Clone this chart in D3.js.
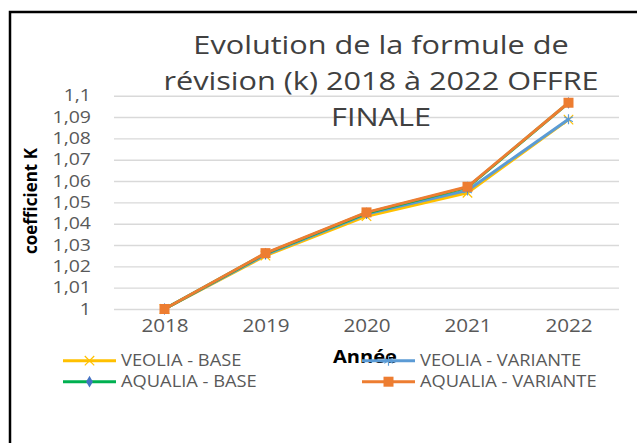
<!DOCTYPE html>
<html>
<head>
<meta charset="utf-8">
<script src="https://cdn.jsdelivr.net/npm/d3@7.9.0/dist/d3.min.js"></script>
<style>
  body { margin: 0; background: #fff; }
  svg { display: block; font-family: "Open Sans", sans-serif; }
</style>
</head>
<body>
<div id="viz"></div>
<script>
// Data
const years = ["2018", "2019", "2020", "2021", "2022"];
const veoliaBase = [1, 1.025, 1.0435, 1.0545, 1.0888];
const veoliaVariante = [1, 1.0255, 1.0445, 1.0556, 1.089];
const aqualiaBase = [1, 1.026, 1.045, 1.057, 1.0966];
const aqualiaVariante = [1, 1.0262, 1.0453, 1.0573, 1.0967];
const seriesNames = ["VEOLIA - BASE", "VEOLIA - VARIANTE", "AQUALIA - BASE", "AQUALIA - VARIANTE"];
const yTicks = [1, 1.01, 1.02, 1.03, 1.04, 1.05, 1.06, 1.07, 1.08, 1.09, 1.1];
const titleLines = ["Evolution de la formule de", "révision (k) 2018 à 2022 OFFRE", "FINALE"];
const xTitle = "Année";
const yTitle = "coefficient K";

const series = [
  { name: seriesNames[0], values: veoliaBase, color: "#FFC000", marker: "x" },
  { name: seriesNames[1], values: veoliaVariante, color: "#5B9BD5", marker: "asterisk" },
  { name: seriesNames[2], values: aqualiaBase, color: "#00B050", marker: "diamond" },
  { name: seriesNames[3], values: aqualiaVariante, color: "#ED7D31", marker: "square" }
];

const W = 637, H = 443;
const K = 1.18; // the picture is a bit stretched sideways

const svg = d3.select("#viz").append("svg")
  .attr("width", W)
  .attr("height", H);

svg.append("rect").attr("width", W).attr("height", H).attr("fill", "#fff");

// frame (right and bottom edges are cut off in the picture)
svg.append("path")
  .attr("d", `M10,${H} V12 H${W}`)
  .attr("fill", "none")
  .attr("stroke", "#000")
  .attr("stroke-width", 2.5);

const x = d3.scalePoint().domain(years).range([114, 619]).padding(0.5);
const y = d3.scaleLinear().domain([1, 1.1]).range([309, 95.7]);

// gridlines
const grid = svg.append("g")
  .attr("transform", "translate(114,0)")
  .call(d3.axisLeft(y).tickValues(yTicks).tickSize(-(619 - 114)).tickFormat(""));
grid.select(".domain").remove();
grid.selectAll("line").attr("stroke", "#d9d9d9").attr("stroke-width", 1.4);

// y tick labels
const fmt = v => d3.format("~r")(+v.toFixed(2)).replace(".", ",");
const yAxis = svg.append("g")
  .attr("transform", "translate(91,0)")
  .call(d3.axisLeft(y).tickValues(yTicks).tickSize(0).tickPadding(0).tickFormat(fmt));
yAxis.select(".domain").remove();
yAxis.selectAll("text")
  .attr("font-family", "Open Sans")
  .attr("font-size", 16.5)
  .attr("fill", "#595959")
  .attr("transform", `scale(${K},1)`);

// x tick labels
const xAxis = svg.append("g")
  .attr("transform", "translate(0,309)")
  .call(d3.axisBottom(x).tickSize(0).tickPadding(11));
xAxis.select(".domain").remove();
xAxis.selectAll("text")
  .attr("font-family", "Open Sans")
  .attr("font-size", 17.5)
  .attr("fill", "#595959")
  .attr("transform", `scale(${K},1)`);

// markers
function drawMarker(g, type, color, cx, cy) {
  if (type === "square") {
    g.append("path").attr("transform", `translate(${cx},${cy})`)
      .attr("d", d3.symbol(d3.symbolSquare, 100)())
      .attr("fill", color);
  } else if (type === "diamond") {
    g.append("path").attr("transform", `translate(${cx},${cy})`)
      .attr("d", d3.symbol(d3.symbolDiamond, 40)())
      .attr("fill", "#4472C4");
  } else if (type === "x") {
    g.append("path").attr("transform", `translate(${cx},${cy})`)
      .attr("d", d3.symbol(d3.symbolX, 60)())
      .attr("fill", "none").attr("stroke", color).attr("stroke-width", 1.2);
  } else {
    g.append("path").attr("transform", `translate(${cx},${cy})`)
      .attr("d", d3.symbol(d3.symbolAsterisk, 70)())
      .attr("fill", "none").attr("stroke", color).attr("stroke-width", 1.2);
  }
}

const line = d3.line()
  .x((d, i) => x(years[i]))
  .y(d => y(d));

const plot = svg.append("g");
series.forEach(s => {
  plot.append("path")
    .datum(s.values)
    .attr("fill", "none")
    .attr("stroke", s.color)
    .attr("stroke-width", 3)
    .attr("stroke-linejoin", "round")
    .attr("d", line);
  s.values.forEach((v, i) => drawMarker(plot, s.marker, s.color, x(years[i]), y(v)));
});

// title (drawn over the gridlines, as in the picture)
svg.append("g").selectAll("text")
  .data(titleLines)
  .join("text")
  .attr("transform", (d, i) => `translate(381,${54 + i * 36}) scale(${K},1)`)
  .attr("text-anchor", "middle")
  .attr("font-size", 26)
  .attr("fill", "#404040")
  .text(d => d);

// axis titles
svg.append("text")
  .attr("transform", "translate(37,201) rotate(-90)")
  .attr("text-anchor", "middle")
  .attr("font-size", 17)
  .attr("font-weight", "bold")
  .attr("fill", "#000")
  .text(yTitle);

svg.append("text")
  .attr("transform", `translate(333,363) scale(${K},1)`)
  .attr("font-size", 17)
  .attr("font-weight", "bold")
  .attr("fill", "#000")
  .text(xTitle);

// legend, two columns
const legendCols = [63, 362];
const legendRows = [360.7, 381.7];
const legend = svg.append("g");
series.forEach((s, i) => {
  const lx = legendCols[i % 2], ly = legendRows[Math.floor(i / 2)];
  const item = legend.append("g");
  item.append("line")
    .attr("x1", lx).attr("x2", lx + 53)
    .attr("y1", ly).attr("y2", ly)
    .attr("stroke", s.color)
    .attr("stroke-width", 3);
  drawMarker(item, s.marker, s.color, lx + 26.5, ly);
  item.append("text")
    .attr("transform", `translate(${lx + 58},${ly + 5.5}) scale(${K},1)`)
    .attr("font-size", 15.5)
    .attr("fill", "#595959")
    .text(s.name);
});
</script>
</body>
</html>
